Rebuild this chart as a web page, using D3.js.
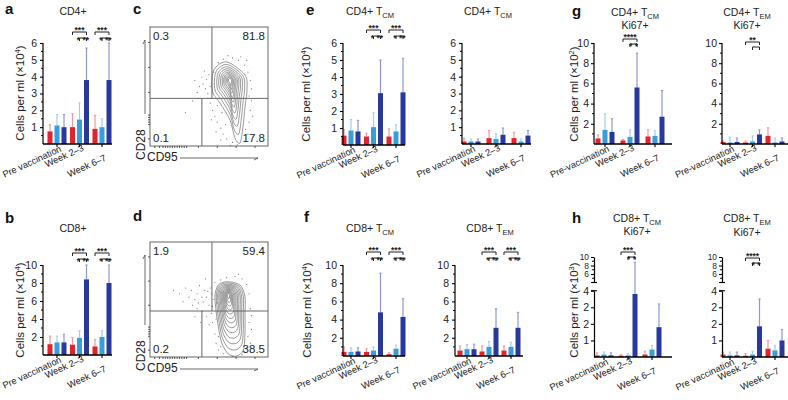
<!DOCTYPE html>
<html><head><meta charset="utf-8">
<script src="https://cdn.jsdelivr.net/npm/d3@7"></script>
<style>
body{margin:0;background:#fff}
svg{display:block}
text{font-family:"Liberation Sans",Arial,Helvetica,sans-serif;fill:#222}
</style>
</head><body>
<svg id="fig" width="788" height="400"></svg>
<script>
// ---------------- DATA ----------------
const categories  = ["Pre vaccination", "Week 2–3", "Week 6–7"];
const categoriesG = ["Pre-vaccination", "Week 2–3", "Week 6–7"];
const seriesNames = ["Group 1", "Group 2", "Group 3"];

// mean values [category][series] and upper error-bar ends
const aMean  = [[0.75, 1.1, 1.0], [1.0, 1.45, 3.8], [0.9, 1.0, 3.8]];
const aUpper = [[1.15, 1.75, 1.75], [1.8, 2.45, 5.7], [1.7, 1.5, 6.0]];
const bMean  = [[1.2, 1.4, 1.4], [1.15, 1.9, 8.4], [0.95, 2.0, 8.0]];
const bUpper = [[2.1, 2.1, 2.3], [1.95, 2.7, 10], [1.7, 2.7, 10]];
const e1Mean  = [[0.55, 0.85, 0.8], [0.5, 1.05, 3.05], [0.5, 0.8, 3.1]];
const e1Upper = [[0.9, 1.5, 1.45], [0.7, 1.9, 5.0], [0.95, 1.2, 5.1]];
const e2Mean  = [[0.15, 0.15, 0.15], [0.35, 0.3, 0.55], [0.35, 0.15, 0.5]];
const e2Upper = [[0.35, 0.3, 0.3], [0.8, 0.6, 0.95], [0.7, 0.3, 0.8]];
const f1Mean  = [[0.45, 0.45, 0.5], [0.45, 0.6, 4.8], [0.2, 0.8, 4.3]];
const f1Upper = [[1.0, 0.9, 0.9], [0.8, 1.0, 9.1], [0.35, 1.2, 6.3]];
const f2Mean  = [[0.6, 0.75, 0.75], [0.5, 1.0, 3.1], [0.6, 1.0, 3.1]];
const f2Upper = [[1.1, 1.25, 1.3], [1.1, 1.6, 5.2], [1.1, 1.5, 4.8]];
const g1Mean  = [[0.55, 1.4, 1.2], [0.35, 0.7, 5.6], [0.75, 0.8, 2.7]];
const g1Upper = [[0.9, 3.0, 2.5], [0.45, 1.4, 9.0], [1.4, 1.3, 5.3]];
const g2Mean  = [[0.2, 0.15, 0.2], [0.15, 0.25, 0.95], [0.8, 0.15, 0.25]];
const g2Upper = [[0.3, 0.7, 0.6], [0.3, 0.8, 1.4], [1.6, 0.6, 0.6]];
const h1Mean  = [[0.1, 0.15, 0.1], [0.08, 0.1, 3.8], [0.15, 0.45, 1.8]];
const h1Upper = [[0.25, 0.3, 0.25], [0.15, 0.2, 8.8], [0.35, 0.7, 3.2]];
const h2Mean  = [[0.15, 0.1, 0.1], [0.08, 0.15, 1.85], [0.5, 0.4, 1.0]];
const h2Upper = [[0.3, 0.3, 0.3], [0.2, 0.35, 3.5], [1.0, 0.7, 1.65]];

// tick labels
const ticks6  = [1, 2, 3, 4, 5, 6];
const ticks10 = [2, 4, 6, 8, 10];
const ticksBrokenLow = [1, 2, 3, 4];
const ticksBrokenLowLabels = ["1", "2", "2", "4"];
const ticksBrokenHigh = [6, 8, 10];

// significance: [category index, top label, lower label]
const sigTwo = [[1, "***", "* **"], [2, "***", "* **"]];
const sigG1 = [[1, "****", "*  *"]];
const sigG2 = [[1, "**", ""]];
const sigH  = [[1, "***", "*  *"]];
const sigH2 = [[1, "****", "*  *"]];

// flow cytometry quadrant percentages [UL, UR, LL, LR]
const cQuad = ["0.3", "81.8", "0.1", "17.8"];
const dQuad = ["1.9", "59.4", "0.2", "38.5"];
// contour outlines (CD95, CD28 in 0-100 plot units) and contour levels
const cOutline = [[65.3,70.6],[80.5,59.7],[82.2,47.1],[80.5,32.8],[78.8,16.0],[76.3,2.5],[72.0,6.7],[67.8,21.8],[59.3,36.1],[53.4,44.5],[52.5,55.5],[55.1,65.5]];
const cCenter = [67.8, 55.5];
const cLevels = [1, 0.86, 0.73, 0.62, 0.52, 0.43, 0.35, 0.28, 0.21, 0.15, 0.09];
const dOutline = [[65.0,65.5],[76.3,62.6],[80.5,52.4],[80.5,38.3],[80.5,20.9],[79.1,6.1],[73.5,0.9],[66.4,2.6],[60.8,12.2],[57.9,26.3],[55.9,40.9],[55.1,53.9],[57.9,62.6]];
const dCenter = [66.4, 54.5];
const dLevels = [1, 0.9, 0.8, 0.71, 0.62, 0.54, 0.46, 0.39, 0.32, 0.25, 0.19, 0.13, 0.07];
const cDots = [[45,52],[47,48],[48,56],[50,60],[44,58],[42,50],[40,45],[49,40],[51,36],[53,30],[55,25],[57,20],[60,15],[62,10],[65,6],[70,3],[74,1],[80,4],[83,10],[84,20],[85,30],[84,42],[85,55],[83,62],[80,68],[75,72],[70,74],[62,73],[58,70],[36,38],[30,28],[52,22],[56,12],[86,48],[38,55],[46,63],[87,25],[82,72],[60,5],[68,0.5],[54,62],[51,50],[57,34],[61,28],[64,18],[86,38],[81,14],[77,75],[66,76],[49,44]];
const dDots = [[30,60],[35,58],[38,50],[40,55],[42,62],[45,48],[46,58],[48,52],[50,45],[51,60],[52,38],[53,30],[54,50],[50,28],[48,35],[44,40],[40,42],[36,45],[33,52],[28,48],[25,55],[55,20],[56,12],[58,6],[62,3],[70,0.5],[78,2],[82,8],[83,18],[84,30],[85,42],[84,55],[82,63],[78,68],[72,70],[65,69],[60,67],[55,65],[47,68],[20,58],[43,30],[38,35],[86,36],[57,47],[52,55],[53,44],[49,57],[56,33],[58,18],[60,9],[86,24],[85,12],[75,72],[44,52],[41,47]];
const flowXTicks = [4, 8, 11, 13, 15, 17, 19, 21, 23, 25, 27, 29, 31, 41, 57, 73, 89];
const flowYTicks = [6, 18, 20, 22, 24, 26, 45, 66, 87];

// ---------------- DRAWING ----------------
const svg = d3.select("#fig");
const colors = ["#e3232b", "#379ddc", "#28399d"];
const errColors = ["#f2979c", "#9fcfef", "#8f97d0"];
const TICK_FS = "10.5px";

function addTitle(lines, x, ys) {
  lines.forEach((ln, i) => {
    const t = svg.append("text").attr("x", x).attr("y", ys[i]).attr("text-anchor", "middle").style("font-size", "10.5px");
    t.append("tspan").text(ln[0]);
    if (ln[1]) t.append("tspan").attr("dy", 2.5).style("font-size", "7.5px").text(ln[1]);
  });
}
function addYLabel(x, yc, exp) {
  const t = svg.append("text").attr("transform", `translate(${x},${yc}) rotate(-90)`)
    .attr("text-anchor", "middle").style("font-size", "11.5px");
  t.append("tspan").text("Cells per ml (×10");
  t.append("tspan").attr("dy", -4).style("font-size", "7.5px").text(exp);
  t.append("tspan").attr("dy", 4).text(")");
}
function letter(l, x, y) {
  svg.append("text").attr("x", x).attr("y", y).style("font-size", "15px").style("font-weight", "bold").style("fill", "#111").text(l);
}

function styleAxis(a, fs) {
  a.selectAll("text").style("font-size", fs || TICK_FS).style("font-family", "Liberation Sans, Arial");
  a.select(".domain").attr("stroke-width", 1.2);
  a.selectAll(".tick line").attr("stroke-width", 1.1);
}

function barPanel(P) {
  const g = svg.append("g");
  const cats = P.cats;
  const xc = d3.scalePoint().domain(cats).range([P.c0, P.c2]);
  const xs = d3.scalePoint().domain(seriesNames).range([-7, 7]);
  const y = P.y;
  const y0 = y(0);
  const rows = cats.flatMap((c, i) => seriesNames.map((s, j) => ({c, s, j, v: P.mean[i][j], u: P.upper[i][j]})));
  const bw = 5;
  g.selectAll("line.err").data(rows).join("line").attr("class", "err")
    .attr("x1", d => xc(d.c) + xs(d.s)).attr("x2", d => xc(d.c) + xs(d.s))
    .attr("y1", d => y(d.v)).attr("y2", d => y(d.u))
    .attr("stroke", d => errColors[d.j]).attr("stroke-width", 1.2);
  g.selectAll("line.cap").data(rows).join("line").attr("class", "cap")
    .attr("x1", d => xc(d.c) + xs(d.s) - 1.2).attr("x2", d => xc(d.c) + xs(d.s) + 1.2)
    .attr("y1", d => y(d.u)).attr("y2", d => y(d.u))
    .attr("stroke", d => errColors[d.j]).attr("stroke-width", 1);
  g.selectAll("rect").data(rows).join("rect")
    .attr("x", d => xc(d.c) + xs(d.s) - bw / 2).attr("width", bw)
    .attr("y", d => y(d.v)).attr("height", d => y0 - y(d.v))
    .attr("fill", d => colors[d.j]);
  const pad = P.pad || 3;
  if (P.broken) {
    const gl = g.append("g").attr("transform", `translate(${P.ax},0)`)
      .call(d3.axisLeft(P.yLow).tickValues(ticksBrokenLow).tickFormat((d, i) => ticksBrokenLowLabels[i]).tickSize(3).tickSizeOuter(0).tickPadding(pad));
    const gu = g.append("g").attr("transform", `translate(${P.ax},0)`)
      .call(d3.axisLeft(P.yUp).tickValues(ticksBrokenHigh).tickFormat(d3.format("d")).tickSize(3).tickSizeOuter(0).tickPadding(pad));
    styleAxis(gl); styleAxis(gu, "8.4px");
    g.selectAll("line.minu").data([5, 7, 9]).join("line").attr("class", "minu").attr("x1", P.ax - 2).attr("x2", P.ax).attr("y1", d => P.yUp(d)).attr("y2", d => P.yUp(d)).attr("stroke", "#000");
    [P.yLow(4), P.yUp(4)].forEach(v => g.append("line").attr("x1", P.ax - 3).attr("x2", P.ax + 3).attr("y1", v).attr("y2", v).attr("stroke", "#000").attr("stroke-width", 1.1));
  } else {
    const ga = g.append("g").attr("transform", `translate(${P.ax},0)`)
      .call(d3.axisLeft(y).tickValues(P.ticks).tickFormat(d3.format("d")).tickSize(3).tickSizeOuter(0).tickPadding(pad));
    styleAxis(ga);
    ga.select(".domain").attr("d", `M0,${y0}V${y(P.yMax)}`);
    g.selectAll("line.minor").data(P.minor).join("line").attr("class", "minor")
      .attr("x1", P.ax - 2).attr("x2", P.ax).attr("y1", d => y(d)).attr("y2", d => y(d)).attr("stroke", "#000");
  }
  g.append("line").attr("x1", P.ax).attr("x2", P.xEnd).attr("y1", y0).attr("y2", y0).attr("stroke", "#000").attr("stroke-width", 1.4);
  g.selectAll("line.xt").data(cats).join("line").attr("class", "xt")
    .attr("x1", d => xc(d)).attr("x2", d => xc(d)).attr("y1", y0).attr("y2", y0 + 3).attr("stroke", "#000").attr("stroke-width", 1.1);
  const labDy = [0, -1, 9];
  g.selectAll("text.xl").data(cats).join("text").attr("class", "xl")
    .attr("transform", (d, i) => `translate(${xc(d) + 5},${y0 + 7 + labDy[i]}) rotate(-25)`)
    .attr("text-anchor", "end").style("font-size", "9.3px").text(d => d);
  P.sig.forEach(s => {
    const cx = xc(cats[s[0]]);
    const xl = cx + xs(seriesNames[0]), xm = cx + xs(seriesNames[1]), xr = cx + xs(seriesNames[2]);
    const yt = P.sigY[0], yl = P.sigY[1];
    g.append("path").attr("d", `M${xl},${yt + 3}V${yt}H${xr}V${yt + 3}`).attr("fill", "none").attr("stroke", "#222").attr("stroke-width", 1);
    g.append("text").attr("x", (xl + xr) / 2).attr("y", yt + 1).attr("text-anchor", "middle").style("font-size", "8.5px").style("font-weight", "bold").text(s[1]);
    g.append("path").attr("d", `M${xm},${yl + 3}V${yl}H${xr}V${yl + 3}`).attr("fill", "none").attr("stroke", "#222").attr("stroke-width", 1);
    if (s[2]) g.append("text").attr("x", (xm + xr) / 2).attr("y", yl + 5).attr("text-anchor", "middle").style("font-size", "8.5px").style("font-weight", "bold").text(s[2]);
  });
}

function lin(max, top, bot) { return d3.scaleLinear().domain([0, max]).range([bot, top]); }
function brokenScale(bot) {
  const yLow = d3.scaleLinear().domain([0, 4]).range([bot, bot - 66.3]);
  const yUp = d3.scaleLinear().domain([4, 10]).range([bot - 74.5, bot - 100]);
  const f = v => v <= 4 ? yLow(v) : yUp(v);
  return {f, yLow, yUp};
}
const minor6 = [0.5, 1.5, 2.5, 3.5, 4.5, 5.5];
const minor10 = [1, 3, 5, 7, 9];

const hS = brokenScale(357), h2S = brokenScale(357);
const panels = [
  {mean: aMean, upper: aUpper, cats: categories, ax: 43, xEnd: 112, c0: 57, c2: 102, y: lin(6, 43, 144), yMax: 6, ticks: ticks6, minor: minor6, sig: sigTwo, sigY: [32, 38]},
  {mean: bMean, upper: bUpper, cats: categories, ax: 43, xEnd: 112, c0: 57, c2: 102, y: lin(10, 265, 355), yMax: 10, ticks: ticks10, minor: minor10, sig: sigTwo, sigY: [253, 259]},
  {mean: e1Mean, upper: e1Upper, cats: categories, ax: 343, xEnd: 405, c0: 351, c2: 396, y: lin(6, 43, 145), yMax: 6, ticks: ticks6, minor: minor6, sig: sigTwo, sigY: [30, 36]},
  {mean: e2Mean, upper: e2Upper, cats: categories, ax: 462, xEnd: 531, c0: 471, c2: 521, y: lin(6, 43, 144), yMax: 6, ticks: ticks6, minor: minor6, sig: [], sigY: [0, 0]},
  {mean: f1Mean, upper: f1Upper, cats: categories, ax: 343, xEnd: 405, c0: 351, c2: 396, y: lin(10, 265, 356), yMax: 10, ticks: ticks10, minor: minor10, sig: sigTwo, sigY: [252, 258]},
  {mean: f2Mean, upper: f2Upper, cats: categories, ax: 455, xEnd: 523, c0: 467, c2: 511, y: lin(10, 265, 356), yMax: 10, ticks: ticks10, minor: minor10, sig: sigTwo, sigY: [252, 258]},
  {mean: g1Mean, upper: g1Upper, cats: categoriesG, ax: 594, xEnd: 672, c0: 605, c2: 655, y: lin(10, 43, 144), yMax: 10, ticks: ticks10, minor: minor10, sig: sigG1, sigY: [39, 44], pad: 2},
  {mean: g2Mean, upper: g2Upper, cats: categoriesG, ax: 722, xEnd: 788, c0: 730, c2: 775, y: lin(10, 43, 144), yMax: 10, ticks: ticks10, minor: minor10, sig: sigG2, sigY: [42, 47], pad: 2},
  {mean: h1Mean, upper: h1Upper, cats: categories, ax: 594, xEnd: 672, c0: 604, c2: 652, y: hS.f, broken: true, yLow: hS.yLow, yUp: hS.yUp, sig: sigH, sigY: [252, 257], pad: 2},
  {mean: h2Mean, upper: h2Upper, cats: categories, ax: 722, xEnd: 788, c0: 730, c2: 775, y: h2S.f, broken: true, yLow: h2S.yLow, yUp: h2S.yUp, sig: sigH2, sigY: [258, 263], pad: 2}
];
panels.forEach(barPanel);

addTitle([["CD4+", ""]], 73, [15]);
addTitle([["CD8+", ""]], 73, [232]);
addTitle([["CD4+ T", "CM"]], 370, [15]);
addTitle([["CD4+ T", "CM"]], 488, [15]);
addTitle([["CD8+ T", "CM"]], 370, [232]);
addTitle([["CD8+ T", "EM"]], 490, [232]);
addTitle([["CD4+ T", "CM"], ["Ki67+", ""]], 635, [16, 29]);
addTitle([["CD4+ T", "EM"], ["Ki67+", ""]], 747, [16, 29]);
addTitle([["CD8+ T", "CM"], ["Ki67+", ""]], 637, [222, 235]);
addTitle([["CD8+ T", "EM"], ["Ki67+", ""]], 747, [222, 236]);
addYLabel(24, 93, "4");
addYLabel(24, 310, "4");
addYLabel(310, 94, "4");
addYLabel(311, 310, "4");
addYLabel(578, 94, "2");
addYLabel(578, 310, "3");
letter("a", 5, 14); letter("b", 5, 223); letter("c", 133, 14); letter("d", 133, 221);
letter("e", 306, 15); letter("f", 304, 222); letter("g", 572, 16); letter("h", 572, 223);

// ---------------- FLOW PLOTS ----------------
function flowPanel(F) {
  const g = svg.append("g");
  const x = d3.scaleLinear().domain([0, 100]).range([F.x0, F.x1]);
  const y = d3.scaleLinear().domain([0, 100]).range([F.y1, F.y0]);
  g.selectAll("circle").data(F.dots).join("circle").attr("cx", d => x(d[0])).attr("cy", d => y(d[1])).attr("r", 0.6).attr("fill", "#777");
  const line = d3.line().x(d => x(d[0])).y(d => y(d[1])).curve(d3.curveCardinalClosed.tension(0.1));
  g.selectAll("path.ct").data(F.levels).join("path").attr("class", "ct")
    .attr("d", s => line(F.outline.map(p => [F.center[0] + s * (p[0] - F.center[0]), F.center[1] + s * (p[1] - F.center[1])])))
    .attr("fill", "none").attr("stroke", "#555").attr("stroke-width", 0.7).attr("stroke-opacity", 0.85);
  g.append("rect").attr("x", F.x0).attr("y", F.y0).attr("width", F.x1 - F.x0).attr("height", F.y1 - F.y0).attr("fill", "none").attr("stroke", "#666").attr("stroke-width", 1);
  g.append("line").attr("x1", F.x0).attr("x2", F.x1).attr("y1", y(F.hGate)).attr("y2", y(F.hGate)).attr("stroke", "#666").attr("stroke-width", 1);
  g.append("line").attr("x1", x(F.vTop)).attr("x2", x(F.vTop)).attr("y1", F.y0).attr("y2", y(F.hGate)).attr("stroke", "#666").attr("stroke-width", 1);
  g.append("line").attr("x1", x(F.vBot)).attr("x2", x(F.vBot)).attr("y1", y(F.hGate)).attr("y2", F.y1).attr("stroke", "#666").attr("stroke-width", 1);
  g.selectAll("line.fx").data(flowXTicks).join("line").attr("class", "fx").attr("x1", d => x(d)).attr("x2", d => x(d)).attr("y1", F.y1).attr("y2", F.y1 + 2).attr("stroke", "#333").attr("stroke-width", 0.8);
  g.selectAll("line.fy").data(flowYTicks).join("line").attr("class", "fy").attr("y1", d => y(d)).attr("y2", d => y(d)).attr("x1", F.x0 - 2).attr("x2", F.x0).attr("stroke", "#333").attr("stroke-width", 0.8);
  const q = F.quad;
  g.append("text").attr("x", F.x0 + 3).attr("y", F.y0 + 13).style("font-size", "11.5px").text(q[0]);
  g.append("text").attr("x", F.x1 - 3).attr("y", F.y0 + 13).attr("text-anchor", "end").style("font-size", "11.5px").text(q[1]);
  g.append("text").attr("x", F.x0 + 3).attr("y", F.y1 - 4).style("font-size", "11.5px").text(q[2]);
  g.append("text").attr("x", F.x1 - 3).attr("y", F.y1 - 4).attr("text-anchor", "end").style("font-size", "11.5px").text(q[3]);
  g.append("text").attr("transform", `translate(${F.x0 - 5},${F.y1 + 14}) rotate(-90)`).style("font-size", "12px").text("CD28");
  g.append("path").attr("d", `M${F.x0 - 5},${F.y1 - 32}V${F.y0 + 13}l-2,4`).attr("fill", "none").attr("stroke", "#444").attr("stroke-width", 0.8);
  g.append("text").attr("x", F.x0 - 3).attr("y", F.y1 + 15).style("font-size", "12px").text("CD95");
  g.append("path").attr("d", `M${F.x0 + 30},${F.y1 + 12}H${F.x1 - 10}l-4,2`).attr("fill", "none").attr("stroke", "#444").attr("stroke-width", 0.8);
}
flowPanel({x0: 150, x1: 268, y0: 27, y1: 146, hGate: 40, vTop: 52.5, vBot: 44, quad: cQuad, outline: cOutline, center: cCenter, levels: cLevels, dots: cDots});
flowPanel({x0: 150, x1: 268, y0: 242, y1: 357, hGate: 40, vTop: 52.5, vBot: 44, quad: dQuad, outline: dOutline, center: dCenter, levels: dLevels, dots: dDots});
</script>
</body></html>
